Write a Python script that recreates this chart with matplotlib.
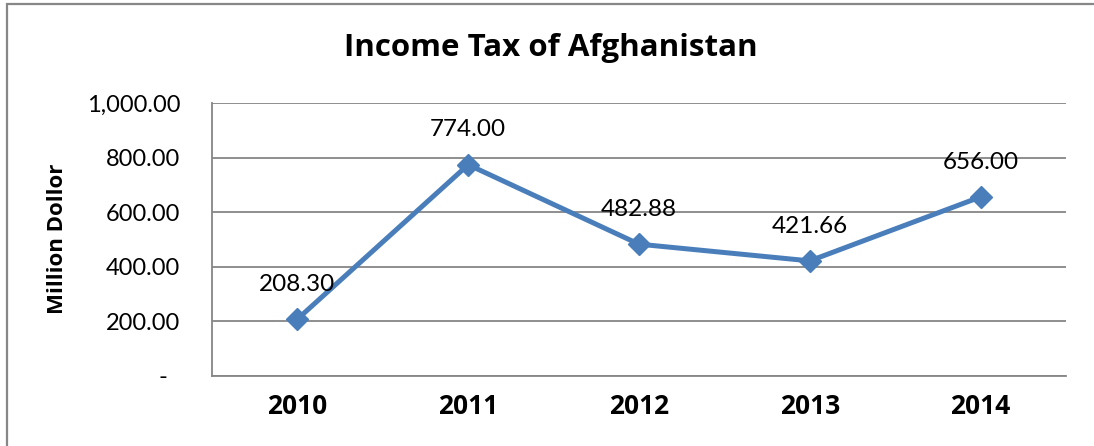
import matplotlib
matplotlib.use("Agg")
import matplotlib.pyplot as plt
from matplotlib.patches import Rectangle
from matplotlib.ticker import FixedLocator, FuncFormatter

years = ["2010", "2011", "2012", "2013", "2014"]
income_tax = [208.30, 774.00, 482.88, 421.66, 656.00]
y_ticks = [0, 200, 400, 600, 800, 1000]

plt.rcParams["font.family"] = ["Lato", "DejaVu Sans"]
BOLD = ["Open Sans", "DejaVu Sans"]

W, H = 1094, 446
fig = plt.figure(figsize=(W / 100, H / 100), dpi=100)

# chart frame (extends past the right and bottom edges)
fig.patches.append(Rectangle((7 / W, -0.05), 1.2, 1 - 4 / H + 0.05,
                             transform=fig.transFigure, fill=False,
                             edgecolor="#878787", linewidth=1.6))

left, right, top, bottom = 212, 1066, 103, 376
ax = fig.add_axes([left / W, 1 - bottom / H, (right - left) / W, (bottom - top) / H])

x = list(range(len(years)))
ax.plot(x, income_tax, color="#4A7EBB", linewidth=3.6, marker="D",
        markersize=11, zorder=3, clip_on=False)

for xi, v in zip(x, income_tax):
    ax.annotate(f"{v:,.2f}", (xi, v), xytext=(0, 25), textcoords="offset points",
                ha="center", va="center", fontsize=17.5, color="#000000")

ax.set_xlim(-0.5, len(years) - 0.5)
ax.set_ylim(0, 1000)
ax.yaxis.set_major_locator(FixedLocator(y_ticks))
ax.yaxis.set_major_formatter(FuncFormatter(lambda v, p: "-  " if v == 0 else f"{v:,.2f}"))
ax.set_xticks(x)
ax.set_xticklabels(years, fontsize=19, fontweight="bold", family=BOLD)
ax.tick_params(axis="y", labelsize=17, length=0, pad=23)
ax.tick_params(axis="x", length=0, pad=12)

ax.grid(axis="y", color="#868686", linewidth=1.3)
ax.set_axisbelow(True)
for s in ("top", "right"):
    ax.spines[s].set_visible(False)
ax.spines["left"].set_color("#868686")
ax.spines["left"].set_linewidth(1.3)
ax.spines["bottom"].set_color("#868686")
ax.spines["bottom"].set_linewidth(1.3)

fig.text(58 / W, 1 - 239 / H, "Million Dollor", rotation=90, ha="center", va="center",
         fontsize=16, fontweight="bold", family=BOLD)

fig.text(551 / W, 1 - 48 / H, "Income Tax of Afghanistan", ha="center", va="center",
         fontsize=22.5, fontweight="bold", family=BOLD)

fig.savefig("out.png", dpi=100)
